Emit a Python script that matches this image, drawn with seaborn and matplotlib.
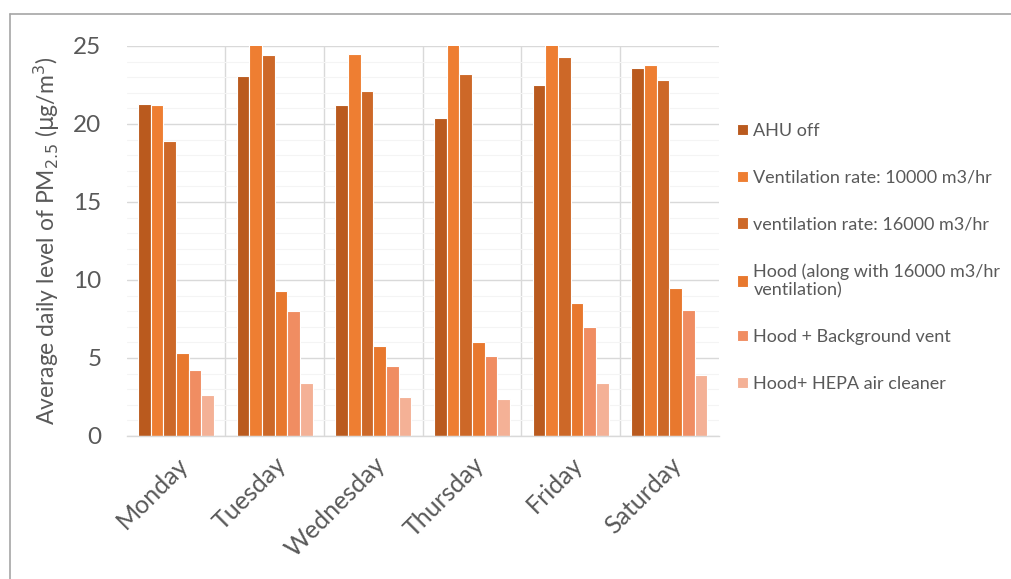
import matplotlib
matplotlib.use("Agg")
import matplotlib.pyplot as plt
from matplotlib.lines import Line2D
from matplotlib.ticker import MultipleLocator, FixedLocator
import numpy as np
import pandas as pd
import seaborn as sns

# Daily mean PM2.5 per ventilation / filtration scenario
days = ["Monday", "Tuesday", "Wednesday", "Thursday", "Friday", "Saturday"]
conditions = [
    "AHU off",
    "Ventilation rate: 10000 m3/hr",
    "ventilation rate: 16000 m3/hr",
    "Hood (along with 16000 m3/hr\nventilation)",
    "Hood + Background vent",
    "Hood+ HEPA air cleaner",
]
ahu_off = [21.3, 23.1, 21.2, 20.4, 22.5, 23.6]
vent_10000 = [21.2, 25.6, 24.5, 25.8, 25.5, 23.8]
vent_16000 = [18.9, 24.4, 22.1, 23.2, 24.3, 22.8]
hood = [5.3, 9.3, 5.8, 6.0, 8.5, 9.5]
hood_background = [4.2, 8.0, 4.5, 5.1, 7.0, 8.1]
hood_hepa = [2.6, 3.4, 2.5, 2.4, 3.4, 3.9]
y_ticks = [0, 5, 10, 15, 20, 25]

colors = ["#BA5A1E", "#EE7E32", "#CD6828", "#E8782E", "#F08D62", "#F4B196"]

series = [ahu_off, vent_10000, vent_16000, hood, hood_background, hood_hepa]
df = pd.DataFrame({
    "day": np.tile(days, len(conditions)),
    "condition": np.repeat(conditions, len(days)),
    "value": np.concatenate(series),
})

sns.set_style("white")
plt.rcParams["font.family"] = ["Lato", "DejaVu Sans"]
text_color = "#595959"
grid_color = "#D9D9D9"

fig = plt.figure(figsize=(10.11, 5.79), dpi=100)
ax = fig.add_axes([0.1252, 0.247, 0.5856, 0.6736])

sns.barplot(
    data=df, x="day", y="value", hue="condition",
    order=days, hue_order=conditions, palette=colors,
    saturation=1, width=0.77, edgecolor="white", linewidth=0.8,
    ax=ax,
)

ax.set_ylim(0, 25)
ax.set_xlim(-0.5, len(days) - 0.5)
ax.set_yticks(y_ticks)
ax.yaxis.set_minor_locator(MultipleLocator(1))
ax.xaxis.set_minor_locator(FixedLocator(np.arange(0.5, len(days) - 1, 1.0)))
ax.set_axisbelow(True)
ax.grid(True, which="major", axis="y", color=grid_color, linewidth=1.0)
ax.grid(True, which="minor", axis="y", color="#F4F4F4", linewidth=0.8)
ax.grid(True, which="minor", axis="x", color=grid_color, linewidth=1.0)

for side in ["top", "right", "left"]:
    ax.spines[side].set_visible(False)
ax.spines["bottom"].set_color(grid_color)
ax.spines["bottom"].set_linewidth(1.0)
ax.tick_params(axis="both", which="both", length=0, colors=text_color)
ax.tick_params(axis="y", labelsize=17.5, pad=18)
ax.tick_params(axis="x", labelsize=18, pad=12)
for lbl in ax.get_xticklabels():
    lbl.set_rotation(45)
    lbl.set_ha("right")
    lbl.set_rotation_mode("anchor")

ax.set_xlabel("")
ax.set_ylabel(r"Average daily level of PM$_{2.5}$ ($\mathrm{\mu}$g/m$^3$)",
              fontsize=16.5, color=text_color, labelpad=8)

handles, labels = ax.get_legend_handles_labels()
ax.legend(
    handles, labels, loc="upper left", bbox_to_anchor=(0.722, 0.80),
    bbox_transform=fig.transFigure, frameon=False, fontsize=13,
    labelcolor=text_color, handlelength=0.6, handleheight=0.6,
    handletextpad=0.3, labelspacing=1.7, borderaxespad=0,
)

# frame lines along the top and left of the figure
fig.add_artist(Line2D([10 / 1011, 1.0], [1 - 14 / 579, 1 - 14 / 579],
                      transform=fig.transFigure, color="#A6A6A6", linewidth=1.2))
fig.add_artist(Line2D([10 / 1011, 10 / 1011], [0.0, 1 - 14 / 579],
                      transform=fig.transFigure, color="#A6A6A6", linewidth=1.2))

fig.savefig("out.png", dpi=100, facecolor="white")
